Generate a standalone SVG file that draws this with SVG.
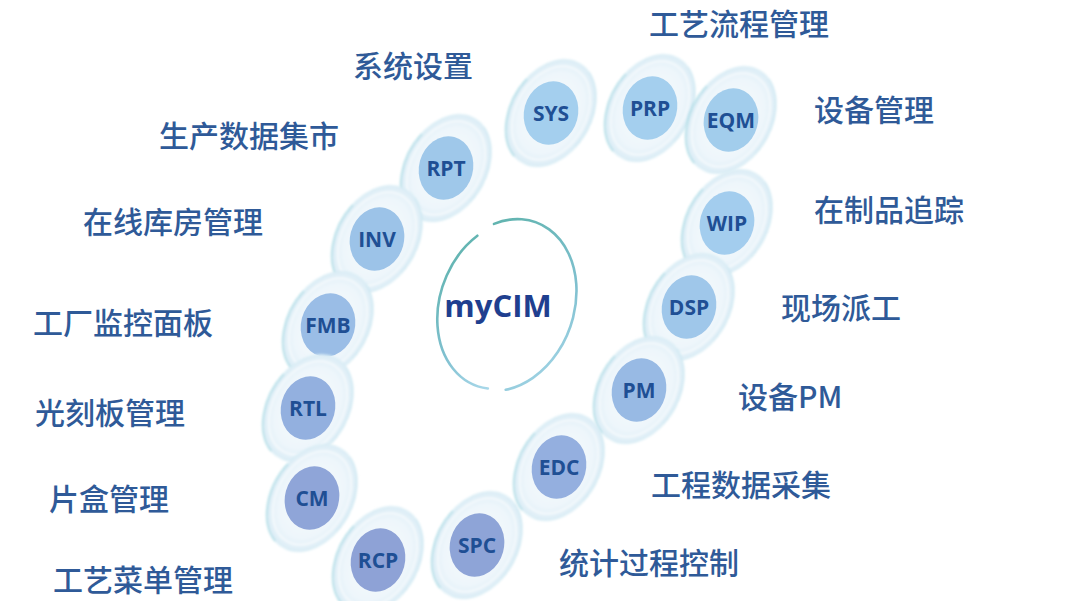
<svg xmlns="http://www.w3.org/2000/svg" xmlns:xlink="http://www.w3.org/1999/xlink" width="1080" height="601" viewBox="0 0 1080 601">
<defs>
  <radialGradient id="haloFill" cx="50%" cy="50%" r="50%">
    <stop offset="0%" stop-color="#f8fcfe"/>
    <stop offset="75%" stop-color="#eef6fb"/>
    <stop offset="100%" stop-color="#dcedf6"/>
  </radialGradient>
  <linearGradient id="ringGrad" x1="0" y1="0" x2="1" y2="1">
    <stop offset="0%" stop-color="#5fb3ad"/>
    <stop offset="60%" stop-color="#7fc0cf"/>
    <stop offset="100%" stop-color="#a9d8ea"/>
  </linearGradient>
  <filter id="soft" x="-20%" y="-20%" width="140%" height="140%">
    <feGaussianBlur stdDeviation="0.8"/>
  </filter>
  <g id="halo">
    <g transform="rotate(30)" filter="url(#soft)">
      <ellipse rx="40" ry="57" fill="url(#haloFill)" stroke="#d6ecf4" stroke-width="1.2"/>
      <ellipse rx="35" ry="50" fill="none" stroke="#ffffff" stroke-width="2" opacity="0.6"/>
      <path d="M -10,55.9 A 40 57 0 0 1 -38,-17.3" fill="none" stroke="#8fd0dc" stroke-width="1.5" opacity="0.7"/>
      <path d="M 12,-54.4 A 40 57 0 0 1 38,17.3" fill="none" stroke="#c4e4ef" stroke-width="1.1" opacity="0.7"/>
    </g>
  </g>
</defs>
<style>
  .lbl { font-family: "Noto Sans CJK SC", "Noto Sans", sans-serif; font-size: 30px; font-weight: 500; fill: #2f5a98; dominant-baseline: central; }
  .code { font-family: "Open Sans", "Noto Sans", sans-serif; font-size: 21px; font-weight: 700; fill: #1f4f94; text-anchor: middle; dominant-baseline: central; }
  .core { stroke: none; }
</style>
<rect width="1080" height="601" fill="#ffffff"/>

<g id="center">
  <g transform="translate(506,305) rotate(20)" fill="none" stroke="url(#ringGrad)" stroke-width="2.6" stroke-linecap="round">
    <path d="M -39,-72.1 A 68 88 0 1 1 28.7,79.8"/>
    <path d="M 11.5,84.7 A 66 86 0 0 1 -50.6,-55.3"/>
  </g>
  <text x="498" y="305" font-family="Open Sans, Noto Sans, sans-serif" font-size="31" font-weight="700" fill="#1f3f8f" text-anchor="middle" dominant-baseline="central">myCIM</text>
</g>

<g id="connectors"/>

<g id="node-SYS" transform="translate(551,113)"><use xlink:href="#halo"/><ellipse class="core" rx="27" ry="32" transform="rotate(15)" fill="#a4cfee"/><text class="code">SYS</text></g>
<g id="node-PRP" transform="translate(650,108)"><use xlink:href="#halo"/><ellipse class="core" rx="27" ry="32" transform="rotate(15)" fill="#a4cfee"/><text class="code">PRP</text></g>
<g id="node-EQM" transform="translate(731,120)"><use xlink:href="#halo"/><ellipse class="core" rx="27" ry="32" transform="rotate(15)" fill="#a2cdec"/><text class="code">EQM</text></g>
<g id="node-RPT" transform="translate(446,168)"><use xlink:href="#halo"/><ellipse class="core" rx="27" ry="32" transform="rotate(15)" fill="#9fc8ea"/><text class="code">RPT</text></g>
<g id="node-WIP" transform="translate(727,223)"><use xlink:href="#halo"/><ellipse class="core" rx="27" ry="32" transform="rotate(15)" fill="#a3cdee"/><text class="code">WIP</text></g>
<g id="node-INV" transform="translate(377,239)"><use xlink:href="#halo"/><ellipse class="core" rx="27" ry="32" transform="rotate(15)" fill="#9cc3e8"/><text class="code">INV</text></g>
<g id="node-DSP" transform="translate(689,307)"><use xlink:href="#halo"/><ellipse class="core" rx="27" ry="32" transform="rotate(15)" fill="#9fc7ea"/><text class="code">DSP</text></g>
<g id="node-FMB" transform="translate(328,325)"><use xlink:href="#halo"/><ellipse class="core" rx="27" ry="32" transform="rotate(15)" fill="#9abde6"/><text class="code">FMB</text></g>
<g id="node-PM" transform="translate(639,390)"><use xlink:href="#halo"/><ellipse class="core" rx="27" ry="32" transform="rotate(15)" fill="#98bae4"/><text class="code">PM</text></g>
<g id="node-RTL" transform="translate(308,408)"><use xlink:href="#halo"/><ellipse class="core" rx="27" ry="32" transform="rotate(15)" fill="#93b0df"/><text class="code">RTL</text></g>
<g id="node-EDC" transform="translate(559,467)"><use xlink:href="#halo"/><ellipse class="core" rx="27" ry="32" transform="rotate(15)" fill="#94afdf"/><text class="code">EDC</text></g>
<g id="node-CM" transform="translate(312,498)"><use xlink:href="#halo"/><ellipse class="core" rx="27" ry="32" transform="rotate(15)" fill="#8fa5d8"/><text class="code">CM</text></g>
<g id="node-SPC" transform="translate(477,545)"><use xlink:href="#halo"/><ellipse class="core" rx="27" ry="32" transform="rotate(15)" fill="#8ea4d7"/><text class="code">SPC</text></g>
<g id="node-RCP" transform="translate(378,560)"><use xlink:href="#halo"/><ellipse class="core" rx="27" ry="32" transform="rotate(15)" fill="#8ea2d6"/><text class="code">RCP</text></g>

<g id="labels">
  <text class="lbl" x="649" y="22">工艺流程管理</text>
  <text class="lbl" x="353" y="64">系统设置</text>
  <text class="lbl" x="814" y="108">设备管理</text>
  <text class="lbl" x="159" y="134">生产数据集市</text>
  <text class="lbl" x="814" y="208">在制品追踪</text>
  <text class="lbl" x="83" y="220">在线库房管理</text>
  <text class="lbl" x="781" y="306">现场派工</text>
  <text class="lbl" x="33" y="321">工厂监控面板</text>
  <text class="lbl" x="738" y="395">设备PM</text>
  <text class="lbl" x="35" y="411">光刻板管理</text>
  <text class="lbl" x="651" y="483">工程数据采集</text>
  <text class="lbl" x="49" y="497">片盒管理</text>
  <text class="lbl" x="559" y="561">统计过程控制</text>
  <text class="lbl" x="53" y="578">工艺菜单管理</text>
</g>
</svg>
